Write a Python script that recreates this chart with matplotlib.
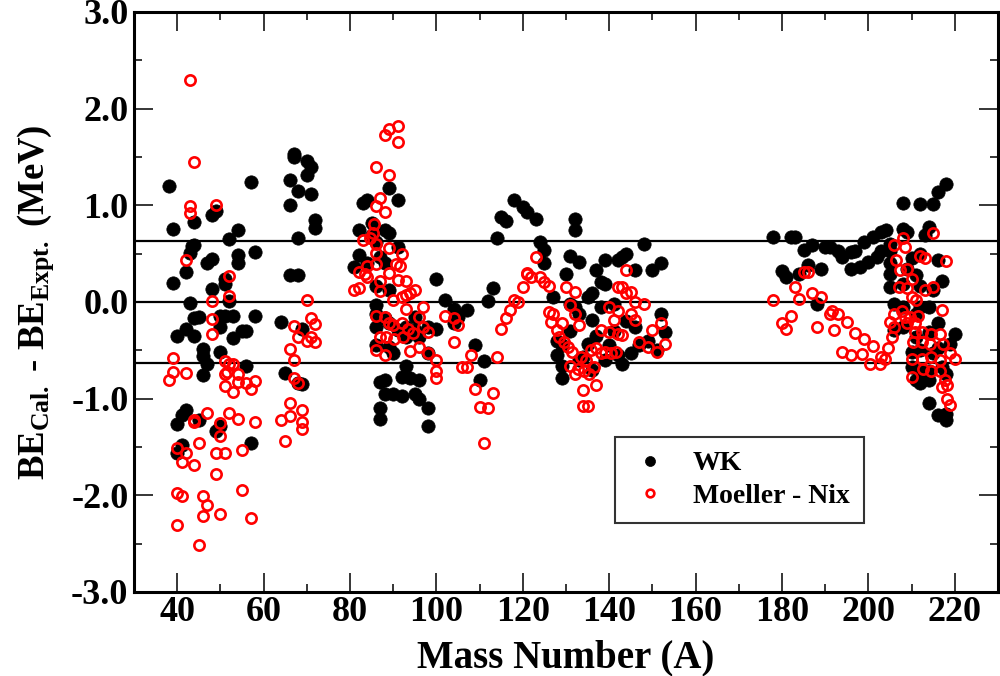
import numpy as np
import matplotlib
matplotlib.use("Agg")
import matplotlib.pyplot as plt
from matplotlib.ticker import MultipleLocator, FormatStrFormatter

plt.rcParams['font.family'] = ['Liberation Serif', 'DejaVu Serif']
plt.rcParams['font.weight'] = 'bold'
plt.rcParams['mathtext.fontset'] = 'custom'
plt.rcParams['mathtext.rm'] = 'Liberation Serif:bold'
plt.rcParams['mathtext.bf'] = 'Liberation Serif:bold'
plt.rcParams['mathtext.it'] = 'Liberation Serif:bold'

# WK model: mass number and BE(calc) - BE(expt) in MeV
wk_mass = (
    [38, 39, 39, 43, 42, 43, 43.5, 44, 44, 48, 49, 47, 48, 48, 51, 51, 52, 54, 54, 54,
     58, 57, 44, 45, 42, 40, 44, 50, 51, 53, 52, 50, 53, 55, 56, 58, 46, 46, 50, 47,
     46, 56, 42, 41, 40, 45, 49, 50, 41, 40, 57]
    + [67, 67, 70, 71, 70, 66, 68, 71, 66, 72, 72, 68, 66, 68, 64, 69, 65, 69, 68]
    + [89, 91, 83, 84, 85, 82, 88, 89, 85, 86, 91, 82, 81, 84, 87, 88, 86, 89, 100, 102,
       104, 107, 105, 86, 86, 95, 86, 88, 89, 91, 93, 95, 96, 98, 100, 86, 89, 90, 93, 98,
       93, 87, 88, 92, 94, 96, 88, 90, 92, 95, 96, 98, 87, 87, 98, 104]
    + [113, 112, 109, 111, 110, 114, 115, 116, 118, 120, 121, 123, 132, 132, 124, 125,
       125, 131, 133, 130, 137, 139, 142, 143, 144, 148, 146, 150, 152, 138, 139, 135,
       136, 127, 131, 132, 138, 141, 133, 136, 152, 153, 151, 146, 128, 128, 129, 135,
       145, 143, 129, 129, 134, 137, 140, 141, 139, 142, 131, 133, 136, 144, 147, 149]
    + [178, 182, 183, 185, 187, 190, 191, 193, 194, 196, 197, 199, 201, 203, 204, 196,
       198, 200, 202, 203, 180, 181, 186, 189, 184, 188, 208, 212, 215, 216, 218, 208,
       209, 214, 213, 205, 205, 210, 212, 216, 205, 205, 209, 211, 217, 205, 208, 212,
       215, 206, 208, 212, 214, 211, 216, 220, 206, 208, 211, 214, 210, 212, 215, 216,
       219, 210, 212, 214, 217, 211, 212, 214, 218, 214, 216, 218, 218]
)
wk_dbe = (
    [1.20, 0.76, 0.20, -0.01, 0.31, 0.51, 0.58, 0.59, 0.83, 0.90, 0.94, 0.40, 0.44, 0.13,
     0.24, 0.19, 0.65, 0.74, 0.49, 0.40, 0.52, 1.24, -0.17, -0.16, -0.28, -0.35, -0.35,
     -0.14, -0.15, -0.15, 0.01, -0.26, -0.37, -0.30, -0.30, -0.15, -0.49, -0.56, -0.52,
     -0.64, -0.76, -0.66, -1.12, -1.17, -1.26, -1.22, -1.33, -1.28, -1.48, -1.56, -1.46]
    + [1.53, 1.50, 1.46, 1.40, 1.31, 1.26, 1.15, 1.12, 1.00, 0.85, 0.77, 0.66, 0.28, 0.28,
       -0.21, -0.28, -0.73, -0.85, -0.84]
    + [1.18, 1.06, 1.02, 1.06, 0.82, 0.74, 0.74, 0.71, 0.69, 0.62, 0.57, 0.49, 0.36, 0.40,
       0.47, 0.40, 0.17, 0.12, 0.24, 0.02, -0.07, -0.08, -0.16, -0.03, -0.12, -0.16, -0.26,
       -0.17, -0.22, -0.29, -0.26, -0.29, -0.36, -0.26, -0.28, -0.45, -0.47, -0.53, -0.36,
       -0.53, -0.66, -0.83, -0.81, -0.78, -0.79, -0.81, -0.95, -0.95, -0.97, -0.95, -1.00,
       -1.10, -1.10, -1.21, -1.28, -0.22]
    + [0.14, 0.01, -0.44, -0.61, -0.81, 0.66, 0.88, 0.84, 1.05, 0.98, 0.93, 0.86, 0.86,
       0.74, 0.62, 0.54, 0.40, 0.48, 0.41, 0.29, 0.33, 0.43, 0.43, 0.47, 0.50, 0.60, 0.33,
       0.33, 0.40, 0.21, 0.19, 0.05, 0.09, 0.05, -0.02, -0.05, -0.05, -0.02, -0.12, -0.19,
       -0.12, -0.31, -0.50, -0.26, -0.40, -0.55, -0.45, -0.43, -0.53, -0.64, -0.66, -0.79,
       -0.57, -0.35, -0.45, -0.30, -0.60, -0.55, -0.30, -0.60, -0.70, -0.20, -0.45, -0.40]
    + [0.67, 0.67, 0.67, 0.54, 0.59, 0.57, 0.57, 0.53, 0.47, 0.52, 0.53, 0.62, 0.67, 0.72,
       0.74, 0.34, 0.36, 0.41, 0.47, 0.53, 0.32, 0.26, 0.38, 0.34, 0.29, -0.02, 1.02, 1.01,
       1.01, 1.14, 1.22, 0.76, 0.72, 0.78, 0.69, 0.60, 0.53, 0.45, 0.50, 0.43, 0.29, 0.40,
       0.34, 0.28, 0.22, 0.16, 0.19, 0.17, 0.12, -0.02, -0.05, -0.05, -0.05, -0.12, -0.22,
       -0.33, -0.29, -0.26, -0.36, -0.31, -0.52, -0.50, -0.53, -0.48, -0.43, -0.67, -0.71,
       -0.71, -0.67, -0.81, -0.84, -0.81, -0.74, -1.05, -1.17, -1.16, -1.22]
)

# Moeller - Nix
mn_mass = (
    [43, 44, 43, 43, 49, 42, 52, 52, 48, 48, 48, 39, 39, 38, 42, 51, 52, 53, 51, 51.5,
     54, 51, 54, 53, 56, 57, 58, 44, 44, 47, 50, 50, 52, 54, 58, 45, 40, 42, 41, 44,
     49, 51, 55, 49, 40, 41, 46, 47, 55, 46, 50, 57, 40, 45]
    + [70, 67, 71, 72, 68, 70, 71, 72, 66, 67, 67, 68, 66, 64, 66, 69, 69, 69, 65]
    + [88, 89, 91, 91, 86, 89, 87, 86, 88, 85.6, 85.3, 83, 84.6, 86, 86, 89, 92, 84, 86,
       90.6, 91.5, 82, 83.4, 84, 89, 91, 93, 87, 81, 82, 87, 90, 92, 93, 94, 95, 93, 97,
       86, 88, 89, 90, 92, 93.4, 94.6, 96, 97, 98, 87, 88.4, 90.3, 92.3, 86, 88, 94, 96,
       98, 100, 100, 100, 102, 104, 105, 104, 106, 107, 108]
    + [109, 110, 112, 113, 111, 114, 115, 116, 117, 118, 119, 120, 121, 123, 121, 122,
       124, 125, 126, 130, 132, 131, 144, 142, 143, 144, 145, 146, 148, 140, 142, 126,
       127, 132, 126.5, 129, 133, 141, 145, 146, 138, 140, 142, 143, 150, 152, 153, 147,
       149, 151, 128, 128.4, 129.6, 130.4, 131.5, 131, 132, 133.4, 134.6, 135.7, 137, 138,
       139, 140.4, 141.5, 132.7, 134.2, 135.4, 136.5, 134, 137, 134, 135]
    + [178, 180, 181, 182, 183, 184, 185, 186, 187, 189, 188, 191, 191.5, 193, 192, 195,
       197, 199, 201, 194, 196, 198.5, 200.4, 202.7, 203.8, 204.6, 205.4, 206, 205, 206,
       207.7, 209.6, 210.8, 206, 208.5, 208, 206.5, 207.3, 209, 210, 212, 213, 215, 218,
       207, 209, 210, 211, 213, 215, 217, 208.5, 211.5, 209, 210.8, 212.3, 214.6, 216.5,
       210.4, 212.3, 214.2, 217.3, 219, 220, 210, 212.3, 214.6, 216.5, 210, 212.7, 214.5,
       216.5, 217.7, 218.3, 217, 218.3, 219, 203]
)
mn_dbe = (
    [2.30, 1.45, 0.99, 0.92, 1.00, 0.43, 0.27, 0.06, 0.01, -0.18, -0.33, -0.58, -0.72,
     -0.81, -0.73, -0.61, -0.64, -0.64, -0.74, -0.72, -0.74, -0.87, -0.83, -0.93, -0.84,
     -0.90, -0.82, -1.24, -1.22, -1.15, -1.25, -1.39, -1.15, -1.21, -1.24, -1.46, -1.51,
     -1.56, -1.66, -1.69, -1.56, -1.56, -1.53, -1.78, -1.98, -2.01, -2.01, -2.10, -1.95,
     -2.21, -2.19, -2.23, -2.31, -2.51]
    + [0.02, -0.25, -0.17, -0.23, -0.36, -0.40, -0.36, -0.41, -0.49, -0.60, -0.79, -0.84,
       -1.05, -1.22, -1.18, -1.12, -1.24, -1.31, -1.44]
    + [1.73, 1.79, 1.82, 1.66, 1.40, 1.31, 1.08, 0.99, 0.93, 0.81, 0.71, 0.64, 0.66, 0.60,
       0.51, 0.56, 0.50, 0.37, 0.39, 0.39, 0.37, 0.31, 0.29, 0.26, 0.30, 0.23, 0.22, 0.22,
       0.12, 0.14, 0.11, 0.02, 0.05, 0.07, 0.09, 0.12, -0.07, -0.05, -0.14, -0.16, -0.22,
       -0.24, -0.22, -0.28, -0.32, -0.16, -0.26, -0.31, -0.36, -0.36, -0.38, -0.36, -0.50,
       -0.55, -0.51, -0.47, -0.53, -0.60, -0.71, -0.79, -0.14, -0.17, -0.24, -0.41, -0.67,
       -0.67, -0.55]
    + [-0.90, -1.09, -1.10, -0.94, -1.46, -0.57, -0.28, -0.17, -0.08, 0.02, 0.00, 0.16,
       0.29, 0.47, 0.30, 0.26, 0.26, 0.21, 0.17, 0.16, 0.10, -0.03, 0.33, 0.16, 0.16, 0.09,
       0.10, 0.00, -0.02, -0.05, -0.09, -0.10, -0.12, -0.12, -0.21, -0.22, -0.24, -0.19,
       -0.12, -0.19, -0.29, -0.31, -0.33, -0.34, -0.29, -0.22, -0.43, -0.41, -0.47, -0.52,
       -0.29, -0.36, -0.41, -0.47, -0.52, -0.66, -0.74, -0.57, -0.60, -0.50, -0.48, -0.53,
       -0.52, -0.53, -0.52, -0.69, -0.71, -0.74, -0.67, -0.91, -0.86, -1.08, -1.08]
    + [0.02, -0.22, -0.28, -0.14, 0.16, 0.03, 0.31, 0.31, 0.09, 0.05, -0.26, -0.12, -0.09,
       -0.12, -0.29, -0.21, -0.32, -0.38, -0.46, -0.52, -0.55, -0.54, -0.64, -0.64, -0.59,
       -0.48, -0.36, -0.26, -0.21, -0.12, -0.09, -0.16, -0.22, 0.59, 0.57, 0.66, 0.43, 0.33,
       0.34, 0.24, 0.48, 0.45, 0.71, 0.42, 0.16, 0.14, 0.05, 0.02, 0.12, 0.16, -0.08, -0.16,
       -0.14, -0.22, -0.31, -0.31, -0.33, -0.33, -0.41, -0.41, -0.43, -0.43, -0.53, -0.59,
       -0.59, -0.59, -0.57, -0.60, -0.78, -0.69, -0.71, -0.71, -0.81, -0.86, -0.88, -1.00,
       -1.07, -0.57]
)

rms_band = 0.63

fig = plt.figure(figsize=(10, 6.76), dpi=100)
ax = fig.add_axes([0.134, 0.1243, 0.864, 0.858])

for yl in (rms_band, 0.0, -rms_band):
    ax.axhline(yl, color='black', lw=1.6, zorder=1)

ax.plot(wk_mass, wk_dbe, 'o', color='black', ms=9.6, mec='black', mew=0.5,
        label='WK', zorder=2)
ax.plot(mn_mass, mn_dbe, 'o', color='red', mfc='none', ms=7.4, mew=1.9,
        label='Moeller - Nix', zorder=3)

ax.set_xlim(30, 230)
ax.set_ylim(-3.0, 3.0)
ax.xaxis.set_major_locator(MultipleLocator(20))
ax.xaxis.set_minor_locator(MultipleLocator(10))
ax.yaxis.set_major_locator(MultipleLocator(1.0))
ax.yaxis.set_minor_locator(MultipleLocator(0.5))
ax.yaxis.set_major_formatter(FormatStrFormatter('%.1f'))
ax.set_xticks(np.arange(40, 221, 20))

ax.tick_params(which='both', direction='in', top=True, right=True, width=1.1)
ax.tick_params(which='major', length=14, labelsize=26)
ax.tick_params(which='minor', length=6)
ax.tick_params(axis='y', which='major', pad=4)
ax.tick_params(axis='x', which='major', pad=3)
for s in ax.spines.values():
    s.set_linewidth(2.2)

ax.set_xlabel('Mass Number (A)', fontsize=28, fontweight='bold')
ax.set_ylabel(r'BE$_{\mathbf{Cal.}}$ - BE$_{\mathbf{Expt.}}$ (MeV)', fontsize=26.5,
              fontweight='bold')
ax.xaxis.set_label_coords(0.5, -0.081)
ax.yaxis.set_label_coords(-0.090, 0.5)

leg = ax.legend(loc='upper left', bbox_to_anchor=(0.557, 0.267), fontsize=20,
                frameon=True, fancybox=False, edgecolor='black', markerscale=0.75,
                handletextpad=0.8, borderpad=0.5, labelspacing=0.25, handlelength=1.5,
                borderaxespad=0.0)
leg.get_frame().set_linewidth(1.5)

fig.savefig('out.png', dpi=100)
